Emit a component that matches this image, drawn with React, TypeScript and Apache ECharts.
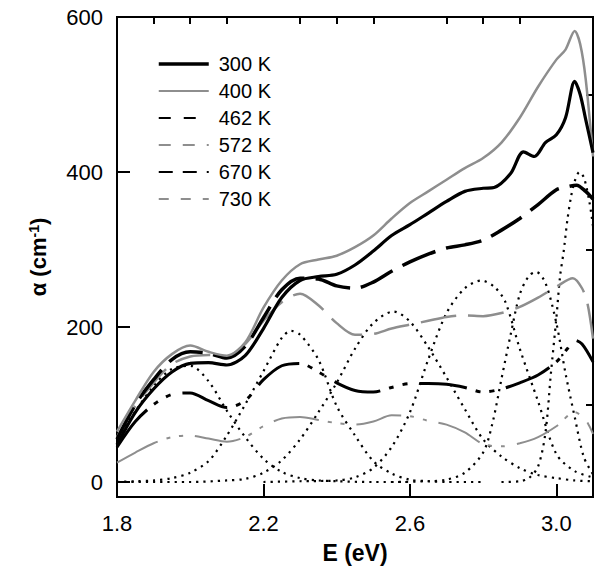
import React, { useEffect, useRef } from "react";
import * as echarts from "echarts";

const FONT = "Liberation Sans, Arial, Helvetica, sans-serif";

// x tick labels / positions
const X_MAJOR = [1.8, 2.2, 2.6, 3.0];
const X_MINOR = [1.9, 2.0, 2.1, 2.3, 2.4, 2.5, 2.7, 2.8, 2.9];
const Y_MAJOR = [0, 200, 400, 600];
const Y_MINOR = [100, 300, 500];

const BASE = [1.8, 1.85, 1.9, 1.95, 2.0, 2.05, 2.1, 2.15, 2.2, 2.25, 2.3, 2.35, 2.4, 2.45, 2.5, 2.55, 2.6, 2.65, 2.7, 2.75, 2.8, 2.85, 2.9, 2.95, 3.0];

// 300 K
const E300 = [1.8, 1.85, 1.9, 1.95, 2.0, 2.05, 2.1, 2.15, 2.2, 2.25, 2.3, 2.35, 2.4, 2.45, 2.5, 2.55, 2.6, 2.65, 2.7, 2.75, 2.8, 2.83, 2.875, 2.91, 2.94, 2.97, 3.0, 3.025, 3.05, 3.065, 3.08, 3.1];
const A300 = [48, 90, 120, 142, 153, 154, 151, 163, 198, 238, 260, 265, 268, 280, 298, 318, 332, 347, 362, 375, 379, 380, 398, 426, 420, 438, 448, 470, 517, 500, 468, 425];
// 400 K
const E400 = [1.8, 1.85, 1.9, 1.95, 2.0, 2.05, 2.1, 2.15, 2.2, 2.25, 2.3, 2.35, 2.4, 2.45, 2.5, 2.55, 2.6, 2.65, 2.7, 2.75, 2.8, 2.85, 2.9, 2.95, 3.0, 3.025, 3.05, 3.065, 3.08, 3.1];
const A400 = [65, 105, 142, 165, 176, 168, 163, 180, 225, 260, 281, 287, 292, 303, 318, 340, 360, 375, 390, 405, 418, 438, 470, 510, 545, 558, 582, 565, 520, 420];
// 462 K
const E462 = [...BASE, 3.03, 3.055, 3.08, 3.1];
const A462 = [55, 100, 132, 158, 168, 166, 160, 175, 212, 248, 263, 262, 253, 250, 258, 272, 284, 294, 302, 306, 312, 325, 340, 358, 377, 381, 383, 375, 365];
// 572 K
const E572 = [...BASE, 3.045, 3.07, 3.085, 3.1];
const A572 = [58, 98, 128, 152, 162, 164, 162, 178, 208, 232, 243, 228, 205, 190, 191, 198, 203, 208, 213, 215, 214, 218, 226, 238, 252, 263, 250, 230, 185];
// 670 K
const E670 = [...BASE, 3.03, 3.05, 3.07, 3.1];
const A670 = [45, 78, 100, 113, 115, 105, 96, 105, 132, 150, 153, 142, 128, 118, 116, 122, 127, 127, 126, 122, 116, 120, 128, 138, 155, 172, 183, 178, 155];
// 730 K
const E730 = [...BASE, 3.05, 3.08, 3.1];
const A730 = [25, 38, 50, 58, 60, 56, 52, 58, 72, 82, 84, 80, 76, 74, 78, 86, 85, 79, 74, 64, 49, 46, 50, 58, 72, 90, 80, 62];

// fitted components (dotted)
const G1E = [1.8, 1.85, 1.9, 1.95, 2.0, 2.05, 2.1, 2.15, 2.2, 2.25, 2.3, 2.35, 2.4, 2.5, 2.6];
const G1A = [57, 91, 124, 146, 150, 130, 92, 58, 30, 13, 5, 2, 1, 0, 0];
const G2E = [1.8, 1.85, 1.9, 1.95, 2.0, 2.05, 2.1, 2.15, 2.2, 2.25, 2.275, 2.3, 2.35, 2.4, 2.45, 2.5, 2.55, 2.6, 2.65, 2.7, 2.8];
const G2A = [0, 1, 2, 5, 12, 27, 60, 100, 143, 186, 195, 190, 158, 98, 60, 27, 11, 3, 1, 0, 0];
const G3E = [1.8, 1.9, 2.0, 2.1, 2.15, 2.2, 2.25, 2.3, 2.35, 2.4, 2.45, 2.5, 2.555, 2.6, 2.65, 2.7, 2.75, 2.8, 2.85, 2.9, 2.95, 3.0, 3.05, 3.1];
const G3A = [0, 0, 0, 2, 4, 12, 28, 55, 90, 128, 172, 205, 220, 207, 174, 135, 94, 55, 33, 18, 9, 5, 2, 1];
const G4E = [2.2, 2.3, 2.4, 2.45, 2.5, 2.55, 2.6, 2.65, 2.7, 2.75, 2.795, 2.83, 2.86, 2.9, 2.95, 3.0, 3.05, 3.1];
const G4A = [0, 1, 2, 6, 18, 45, 90, 158, 218, 250, 260, 252, 233, 172, 104, 36, 14, 6];
const G5E = [2.55, 2.65, 2.7, 2.75, 2.8, 2.825, 2.85, 2.875, 2.9, 2.925, 2.945, 2.97, 3.0, 3.025, 3.05, 3.075, 3.1];
const G5A = [0, 1, 3, 12, 38, 75, 133, 190, 242, 266, 271, 257, 205, 140, 84, 32, 10];
const G6E = [2.85, 2.9, 2.925, 2.95, 2.97, 2.985, 3.0, 3.01, 3.02, 3.03, 3.04, 3.05, 3.063, 3.075, 3.09, 3.1];
const G6A = [0, 1, 5, 20, 63, 140, 212, 265, 298, 338, 368, 388, 400, 393, 362, 330];

const zip = (xs: number[], ys: number[]) => xs.map((x, i) => [x, ys[i]]);

const GRAY = "#8e8e8e";

export default function App() {
  const ref = useRef<HTMLDivElement>(null);
  useEffect(() => {
    if (!ref.current) return;
    const chart = echarts.init(ref.current, undefined, { renderer: "svg" });
    const mainLine = (name: string, xs: number[], ys: number[], color: string, width: number, type: any) => ({
      name,
      type: "line",
      data: zip(xs, ys),
      symbol: "none",
      smooth: 0.3,
      z: 3,
      lineStyle: { color, width, type },
      itemStyle: { color },
    });
    const dotted = (name: string, xs: number[], ys: number[]) => ({
      name,
      type: "line",
      data: zip(xs, ys),
      symbol: "none",
      smooth: 0.3,
      z: 2,
      lineStyle: { color: "#000", width: 2.2, type: [2.2, 5] },
      itemStyle: { color: "#000" },
    });
    const axisCommon = {
      min: 1.8,
      max: 3.1,
      type: "value",
      splitLine: { show: false },
    };
    chart.setOption({
      animation: false,
      grid: { left: 117, right: 4, top: 17, bottom: 83, show: true, borderColor: "#000", borderWidth: 2 },
      legend: {
        orient: "vertical",
        left: 152,
        top: 49,
        itemWidth: 50,
        itemHeight: 14,
        itemGap: 7,
        itemStyle: { opacity: 0 },
        textStyle: { fontSize: 20, fontFamily: FONT, color: "#000", padding: [0, 0, 0, 5] },
        data: [
          { name: "300 K", lineStyle: { type: "solid", width: 3.5 } },
          { name: "400 K" },
          { name: "462 K", lineStyle: { type: [12, 13] } },
          { name: "572 K", lineStyle: { type: [12, 12] } },
          { name: "670 K", lineStyle: { type: [14, 10] } },
          { name: "730 K", lineStyle: { type: [10, 12] } },
        ],
      },
      xAxis: [
        {
          ...axisCommon,
          name: "E (eV)",
          nameLocation: "middle",
          nameGap: 44,
          nameTextStyle: { fontSize: 23, fontWeight: "bold", fontFamily: FONT, color: "#000" },
          axisLine: { show: true, onZero: false, lineStyle: { color: "#000", width: 2 } },
          axisTick: { show: true, inside: true, length: 13, customValues: X_MAJOR, lineStyle: { color: "#000", width: 2 } },
          axisLabel: {
            customValues: X_MAJOR,
            fontSize: 22,
            fontFamily: FONT,
            color: "#000",
            margin: 15,
            formatter: (v: number) => v.toFixed(1),
          },
        },
        {
          ...axisCommon,
          axisLine: { show: false, onZero: false },
          axisTick: { show: true, inside: true, length: 7, customValues: X_MINOR, lineStyle: { color: "#000", width: 2 } },
          axisLabel: { show: false },
        },
      ],
      yAxis: [
        {
          type: "value",
          min: -19.35,
          max: 600,
          splitLine: { show: false },
          name: "α (cm{sup|-1})",
          nameLocation: "middle",
          nameGap: 68,
          nameTextStyle: {
            fontSize: 22,
            fontWeight: "bold",
            fontFamily: FONT,
            color: "#000",
            rich: { sup: { fontSize: 14, fontWeight: "bold", fontFamily: FONT, color: "#000", verticalAlign: "top", lineHeight: 12 } },
          },
          axisLine: { show: true, onZero: false, lineStyle: { color: "#000", width: 2 } },
          axisTick: { show: true, inside: true, length: 13, customValues: Y_MAJOR, lineStyle: { color: "#000", width: 2 } },
          axisLabel: { customValues: Y_MAJOR, fontSize: 22, fontFamily: FONT, color: "#000", margin: 14 },
        },
        {
          type: "value",
          min: -19.35,
          max: 600,
          splitLine: { show: false },
          axisLine: { show: false, onZero: false },
          axisTick: { show: true, inside: true, length: 7, customValues: Y_MINOR, lineStyle: { color: "#000", width: 2 } },
          axisLabel: { show: false },
        },
      ],
      series: [
        dotted("g1", G1E, G1A),
        dotted("g2", G2E, G2A),
        dotted("g3", G3E, G3A),
        dotted("g4", G4E, G4A),
        dotted("g5", G5E, G5A),
        dotted("g6", G6E, G6A),
        mainLine("730 K", E730, A730, GRAY, 2, [46, 9, 4, 9, 4, 12]),
        mainLine("670 K", E670, A670, "#000", 3, [48, 9, 5, 9, 5, 12]),
        mainLine("572 K", E572, A572, GRAY, 2.5, [36, 12]),
        mainLine("462 K", E462, A462, "#000", 3.5, [36, 11]),
        mainLine("400 K", E400, A400, GRAY, 2.5, "solid"),
        mainLine("300 K", E300, A300, "#000", 3.2, "solid"),
      ],
    });
    return () => chart.dispose();
  }, []);
  return <div ref={ref} style={{ position: "absolute", left: 0, top: 0, width: 597, height: 580, background: "#fff" }} />;
}
